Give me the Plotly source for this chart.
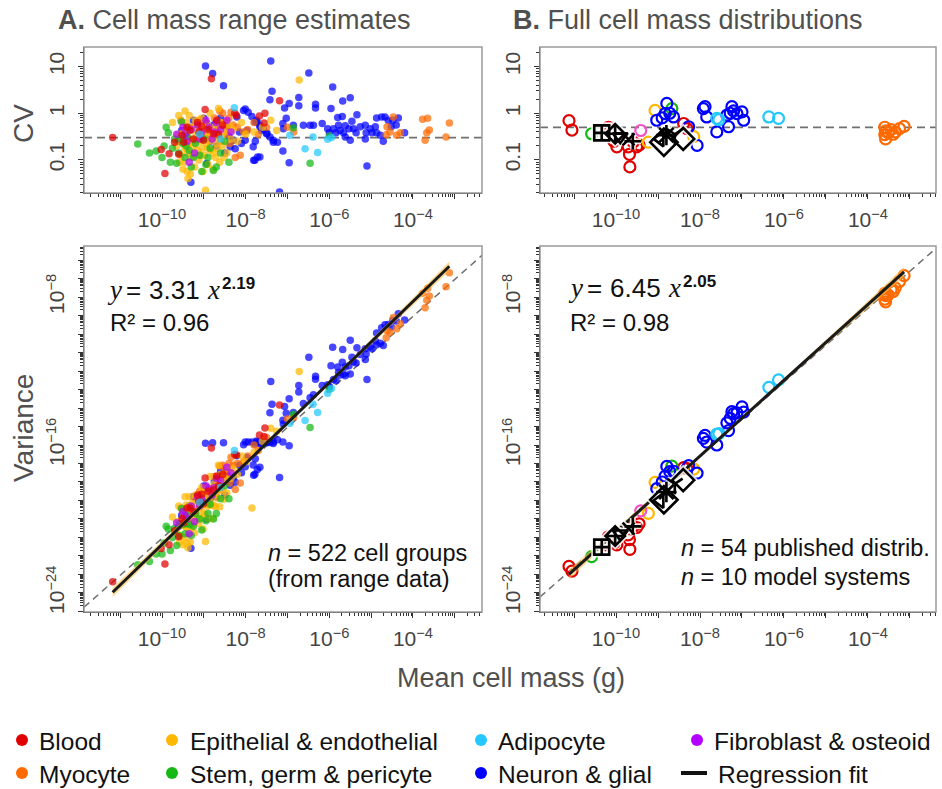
import numpy as np
import plotly.graph_objects as go

W, H = 942, 789

# ---------------- Panel A data: log10 mean cell mass (g), log10 CV ----------------
blood_lm = [-11.18, -10.02, -9.93, -9.83, -9.60, -9.33, -9.52, -9.12, -8.97, -8.82, -8.77, -9.01, -8.69,
            -8.26, -8.22, -7.54, -7.19, -7.67, -7.56, -9.40, -9.25, -8.90, -8.55, -9.70, -9.15,
            -9.48, -9.05, -8.65]
blood_lc = [-0.52, -0.78, -1.29, -0.87, -0.88, -0.37, -0.47, -0.40, 0.08, 0.74, -0.44, -0.58, -0.15,
            0.00, -0.05, 0.00, 0.27, -0.06, -0.21, -0.30, -0.55, -0.35, -0.25, -0.62, -0.20,
            -0.62, -0.28, -0.45]

epi_lm = [-9.75, -9.62, -9.55, -9.50, -9.46, -9.45, -9.40, -9.38, -9.35, -9.33,
          -9.30, -9.28, -9.25, -9.22, -9.20, -9.18, -9.15, -9.12, -9.10, -9.08,
          -9.05, -9.02, -9.00, -8.98, -8.96, -8.95, -8.92, -8.90, -8.88, -8.85,
          -8.83, -8.80, -8.78, -8.75, -8.72, -8.70, -8.66, -8.62, -8.60, -8.55,
          -8.50, -8.45, -8.40, -8.35, -8.30, -8.20, -8.10, -8.00, -7.85, -7.80,
          -7.60, -7.40, -7.26, -6.72, -9.60, -9.45, -9.05, -8.65, -9.40, -9.55,
          -9.65, -9.48, -9.42, -9.36, -9.27, -9.19, -9.13, -9.07, -9.03, -8.97,
          -8.91, -8.86, -8.81, -8.77, -8.73, -8.68, -8.58, -8.52, -9.58, -9.32]
epi_lc = [-0.20, -0.45, -0.60, -1.20, -1.05, -0.75, -0.85, -1.40, -0.05, -0.55,
          -0.95, -0.30, -0.70, -1.15, -0.15, -0.45, -0.80, -1.00, -0.60, -0.35,
          -0.75, -1.25, -0.50, -0.90, -1.65, -0.65, -0.25, -1.10, -0.40, 0.00,
          -0.80, -0.55, -1.20, -0.30, -0.95, -0.65, -0.45, -1.05, -0.20, -0.70,
          -0.40, -0.85, -0.25, -0.55, -0.35, -0.60, -0.20, -0.45, -1.85, -0.40,
          -0.30, -0.15, -0.37, 0.71, -0.05, 0.05, -0.10, 0.10, -1.25, -0.90,
          -0.70, -0.40, -0.20, -0.65, -0.85, -0.55, -0.30, -0.90, -0.40, -0.30,
          -0.75, -0.60, -0.35, -0.85, -0.50, -0.75, -0.55, -0.95, -1.05, -1.30]

myo_lm = [-9.55, -9.40, -9.20, -9.05, -8.95, -8.85, -8.75, -8.65, -8.55, -8.50, -8.45, -8.40,
          -8.35, -8.30, -8.25, -8.13, -8.05, -7.95, -7.80, -7.70, -7.50, -7.00, -6.85,
          -9.10, -8.90, -8.70, -8.60, -8.48, -8.38, -8.20, -8.62,
          -4.47, -4.62, -4.64, -4.39, -4.55, -4.30, -3.77, -3.65, -3.61, -3.67, -3.71, -3.21, -3.13]
myo_lc = [-0.15, -0.30, -0.25, -0.45, -0.20, -0.35, -0.10, -0.30, 0.00, -0.20, -0.45, -0.10,
          0.02, -0.25, -0.95, -0.90, -0.40, -0.35, -0.20, -0.45, -0.30, -0.30, -0.40,
          -0.15, -0.50, -0.40, -0.60, -0.30, -0.65, -0.30, 0.05,
          -0.08, -0.29, -0.46, -0.47, -0.40, -0.42, -0.13, -0.11, -0.36, -0.42, -0.58, -0.51, -0.21]

stem_lm = [-10.58, -10.30, -10.14, -10.00, -9.95, -9.85, -9.80, -9.75, -9.70, -9.65, -9.60,
           -9.53, -9.50, -9.45, -9.40, -9.35, -9.30, -9.20, -9.10, -9.00, -8.95, -8.85,
           -8.77, -8.70, -8.60, -8.50, -8.40, -6.86, -6.46, -6.00, -9.90,
           -9.58, -9.42, -9.25, -9.05, -8.90]
stem_lc = [-0.66, -0.85, -0.81, -0.95, -0.70, -0.42, -1.05, -0.75, -0.55, -1.07, -0.85,
           -0.19, -0.65, -0.95, -0.50, -0.80, -1.15, -0.65, -0.90, -0.55, -1.10, -0.75,
           -1.23, -1.15, -0.85, -0.60, -1.05, -0.31, -1.07, -0.49, -0.30,
           -0.55, -0.70, -0.95, -1.25, -0.95]

fib_lm = [-9.65, -9.50, -9.40, -9.30, -9.22, -9.15, -9.05, -8.95, -8.88, -8.80, -8.70, -8.60,
          -8.45, -8.35, -9.35, -9.45, -9.10, -8.75]
fib_lc = [-0.45, -0.30, -0.60, -0.35, -0.85, -0.25, -0.40, -0.15, -0.30, -0.55, -0.20, -0.35,
          -0.15, -0.40, -1.05, -0.45, -0.55, -0.40]

adi_lm = [-8.27, -6.94, -6.58, -6.28, -6.39, -6.04, -8.60, -9.10, -5.95]
adi_lc = [0.12, -0.47, -0.76, -0.84, -0.51, -0.56, -0.55, -0.45, -0.52]

neu_lm = [-9.53, -9.41, -9.31, -9.21, -9.09, -9.00, -8.93, -8.93, -8.75, -8.65,
          -8.45, -8.37, -8.29, -8.25, -8.21, -8.05, -8.01, -7.97, -7.82, -7.78,
          -7.66, -7.74, -7.62, -7.50, -8.96, -8.79, -8.53, -9.15, -8.85, -8.60,
          -9.60, -9.25, -8.50, -8.15, -9.35, -9.05, -8.70, -8.40, -8.10,
          -8.01, -7.94, -7.85, -7.73, -7.66, -7.58, -7.49, -7.34, -7.11,
          -7.40, -6.49, -7.37, -7.42, -6.73, -6.73, -6.96, -7.07, -7.03, -6.33,
          -6.33, -5.92, -5.96, -5.68, -5.50, -5.80, -5.69, -5.34, -5.46, -6.17,
          -6.62, -6.46, -6.38, -6.86, -7.11, -7.10, -7.78, -7.66, -7.42, -7.34,
          -7.24, -7.77, -7.81, -7.72, -6.96, -7.19, -5.10, -6.04,
          -6.00, -5.90, -5.84, -5.78, -5.74, -5.66, -5.62, -5.53, -5.42, -5.36,
          -5.26, -5.14, -5.12, -5.02, -4.98, -4.90, -4.87, -4.78, -4.71, -4.87,
          -4.75, -4.67, -4.59, -4.48, -4.52, -4.20, -5.50, -5.62, -5.14, -4.35, -4.40]
neu_lc = [-0.37, -0.51, -1.48, -0.58, -0.40, -0.11, -0.22, -1.08, -0.24, -0.47,
          -0.29, -0.72, -0.58, -0.76, -0.08, 0.06, -0.58, -0.37, -0.72, -1.01,
          -0.94, -0.15, -0.37, -0.44, 1.01, 0.85, 0.59, -0.25, -0.60, -0.10,
          -0.60, -0.15, -0.85, -0.40, -0.30, -0.55, -0.70, -0.50, -0.65,
          0.09, 0.02, -0.07, -0.19, -0.26, -0.34, -0.43, -0.58, -0.81,
          1.12, 0.86, 0.47, 0.29, 0.34, 0.16, 0.21, 0.11, -0.11, 0.19,
          0.11, 0.56, 0.10, 0.26, 0.33, -0.09, -0.07, -0.03, -0.17, -0.22,
          -0.26, -0.26, -0.26, -0.26, -0.22, -0.33, -0.19, -0.29, -0.51, -0.62,
          -0.62, -0.60, -1.01, -0.94, -1.06, -1.69, -1.13, -0.33,
          -0.42, -0.33, -0.42, -0.26, -0.37, -0.42, -0.27, -0.33, -0.33, -0.42,
          -0.29, -0.26, -0.42, -0.33, -0.42, -0.29, -0.42, -0.47, -0.60, -0.10,
          -0.08, -0.08, -0.15, -0.15, -0.29, -0.42, -0.58, -0.51, -0.55, -0.10, -0.25]

# ---------------- Panel B data: published distributions ----------------
b_blood_lm = [-11.12, -11.05, -10.18, -10.05, -9.98, -9.71, -9.68, -9.67, -9.51, -9.45, -9.59, -8.39, -8.31, -10.25]
b_blood_lc = [-0.16, -0.36, -0.30, -0.60, -0.72, -0.72, -0.88, -1.15, -0.72, -0.68, -0.62, -0.22, -0.33, -0.45]
b_stem_lm = [-10.58, -8.67]
b_stem_lc = [-0.44, 0.10]
b_epi_lm = [-9.07, -9.23, -8.15]
b_epi_lc = [0.06, -0.62, -0.50]
b_fib_lm = [-9.41]
b_fib_lc = [-0.37]
b_neu_lm = [-8.79, -8.83, -9.03, -8.90, -8.63, -8.27, -8.07, -7.92, -7.88, -7.84,
            -7.60, -7.32, -7.36, -7.24, -7.20, -7.12, -7.00, -6.96, -7.28, -8.72]
b_neu_lc = [0.21, -0.01, -0.15, -0.10, -0.08, -0.29, -0.69, 0.10, 0.14, -0.08,
            -0.40, -0.29, -0.04, 0.14, 0.05, -0.01, 0.03, -0.15, 0.00, 0.00]
b_adi_lm = [-7.60, -7.55, -6.36, -6.13]
b_adi_lc = [-0.11, -0.14, -0.08, -0.11]
b_myo_lm = [-3.60, -3.58, -3.60, -3.58, -3.52, -3.45, -3.40, -3.35, -3.25, -3.14]
b_myo_lc = [-0.30, -0.38, -0.46, -0.55, -0.42, -0.35, -0.45, -0.40, -0.33, -0.28]

# model systems (black symbols)
ms_lm = [-10.34, -10.02, -9.90, -9.70, -9.60, -8.95, -8.86, -8.80, -8.60, -8.40]
ms_lc = [-0.42, -0.44, -0.50, -0.56, -0.60, -0.55, -0.62, -0.47, -0.45, -0.55]
ms_symbols = ["square-cross-open", "diamond-cross-open", "triangle-down-open", "x-thin-open",
              "cross-thin-open", "triangle-left-open", "diamond-open", "asterisk-open",
              "y-down-open", "diamond-open"]
ms_sizes = [15, 15, 13, 12, 12, 13, 21, 17, 13, 17]

# reference lines and fits
cv_ref_A, cv_ref_B = 0.3, 0.5
fitA = dict(label_coef=3.31, label_exp=2.19, log_int=0.52, slope=2.19, r2=0.96)
fitB = dict(label_coef=6.45, label_exp=2.05, log_int=-0.20, slope=2.05, r2=0.98)
band_half = (0.08, 0.26)  # CI half-width (decades) at centre and at ends

# ---------------- styling ----------------
COL = {
    "Blood": "#E00000", "Myocyte": "#FF6A00", "Epithelial & endothelial": "#FFB800",
    "Stem, germ & pericyte": "#14B814", "Adipocyte": "#22C8FF", "Neuron & glial": "#0000FF",
    "Fibroblast & osteoid": "#B400FF",
}
def rgba(hexc, a):
    h = hexc.lstrip("#")
    return f"rgba({int(h[0:2],16)},{int(h[2:4],16)},{int(h[4:6],16)},{a})"

fx = lambda px: px / W
fy = lambda py: 1 - py / H
XL, XR = (84, 482), (540, 936)
YT, YB = (47, 193), (246, 612)

A_groups = [
    ("Neuron & glial", neu_lm, neu_lc),
    ("Myocyte", myo_lm, myo_lc),
    ("Epithelial & endothelial", epi_lm, epi_lc),
    ("Stem, germ & pericyte", stem_lm, stem_lc),
    ("Fibroblast & osteoid", fib_lm, fib_lc),
    ("Blood", blood_lm, blood_lc),
    ("Adipocyte", adi_lm, adi_lc),
]
B_groups = [
    ("Blood", b_blood_lm, b_blood_lc),
    ("Stem, germ & pericyte", b_stem_lm, b_stem_lc),
    ("Epithelial & endothelial", b_epi_lm, b_epi_lc),
    ("Neuron & glial", b_neu_lm, b_neu_lc),
    ("Adipocyte", b_adi_lm, b_adi_lc),
    ("Myocyte", b_myo_lm, b_myo_lc),
]
B_fib_color = "#F050C8"

fig = go.Figure()

XRANGE_A = [-11.865, -2.35]
XRANGE_B = [-11.81, -2.38]
YRANGE_T = [-1.71, 1.42]
YRANGE_B = [-25.03, -5.24]

# dashed reference lines
for xa, ya, xr, cv in [("x", "y", XRANGE_A, cv_ref_A), ("x2", "y2", XRANGE_B, cv_ref_B)]:
    fig.add_trace(go.Scatter(x=[10**xr[0], 10**xr[1]], y=[cv, cv], mode="lines", xaxis=xa, yaxis=ya,
                             line=dict(color="#707070", width=1.8, dash="8px,5px"), showlegend=False, hoverinfo="skip"))
for xa, ya, xr, cv in [("x3", "y3", XRANGE_A, cv_ref_A), ("x4", "y4", XRANGE_B, cv_ref_B)]:
    xs = np.array([10**xr[0], 10**xr[1]])
    fig.add_trace(go.Scatter(x=xs, y=(cv * xs)**2, mode="lines", xaxis=xa, yaxis=ya,
                             line=dict(color="#707070", width=1.5, dash="7px,5px"), showlegend=False, hoverinfo="skip"))

# panel A points
for name, lm, lc in A_groups:
    m = 10**np.array(lm); cv = 10**np.array(lc)
    mk = dict(size=7.5, color=rgba(COL[name], 0.72), line=dict(width=0))
    fig.add_trace(go.Scatter(x=m, y=cv, mode="markers", marker=mk, xaxis="x", yaxis="y", showlegend=False))
    fig.add_trace(go.Scatter(x=m, y=(cv * m)**2, mode="markers", marker=mk, xaxis="x3", yaxis="y3", showlegend=False))

# panel B points
def add_open(lm, lc, color):
    m = 10**np.array(lm); cv = 10**np.array(lc)
    mk = dict(size=11, symbol="circle-open", color=color, line=dict(width=2.2, color=color))
    fig.add_trace(go.Scatter(x=m, y=cv, mode="markers", marker=mk, xaxis="x2", yaxis="y2", showlegend=False))
    fig.add_trace(go.Scatter(x=m, y=(cv * m)**2, mode="markers", marker=mk, xaxis="x4", yaxis="y4", showlegend=False))

for name, lm, lc in B_groups:
    add_open(lm, lc, COL[name])
add_open(b_fib_lm, b_fib_lc, B_fib_color)

# regression fits with confidence band
def add_fit(fit, lm_all, xa, ya):
    lo, hi = min(lm_all), max(lm_all)
    lx = np.linspace(lo, hi, 60)
    ly = fit["log_int"] + fit["slope"] * lx
    mid = 0.5 * (lo + hi); half = 0.5 * (hi - lo)
    hw = band_half[0] + (band_half[1] - band_half[0]) * ((lx - mid) / half)**2
    xs = 10**lx
    fig.add_trace(go.Scatter(x=np.concatenate([xs, xs[::-1]]),
                             y=np.concatenate([10**(ly + hw), (10**(ly - hw))[::-1]]),
                             fill="toself", fillcolor="rgba(250,185,60,0.55)", line=dict(width=0),
                             mode="lines", xaxis=xa, yaxis=ya, showlegend=False, hoverinfo="skip"))
    fig.add_trace(go.Scatter(x=xs, y=10**ly, mode="lines", line=dict(color="#1a1a1a", width=3),
                             xaxis=xa, yaxis=ya, showlegend=False, hoverinfo="skip"))

allA = sum([g[1] for g in A_groups], [])
allB = sum([g[1] for g in B_groups], []) + b_fib_lm
add_fit(fitA, allA, "x3", "y3")
add_fit(fitB, allB, "x4", "y4")

# model systems (drawn last, white halo under black symbols)
ms_m = 10**np.array(ms_lm); ms_cv = 10**np.array(ms_lc)
for xa, ya, yv in [("x2", "y2", ms_cv), ("x4", "y4", (ms_cv * ms_m)**2)]:
    for col, lw in [("rgba(255,255,255,0.85)", 6), ("#000000", 2.6)]:
        fig.add_trace(go.Scatter(x=ms_m, y=yv, mode="markers", xaxis=xa, yaxis=ya, showlegend=False,
                                 marker=dict(symbol=ms_symbols, size=ms_sizes, color=col, opacity=1,
                                             line=dict(width=lw, color=col))))

# ---------------- axes ----------------
def decade_ticks(lo, hi, labeled):
    vals, txt, minor = [], [], []
    for k in range(int(np.floor(lo)), int(np.ceil(hi)) + 1):
        if lo <= k <= hi:
            vals.append(10.0**k)
            txt.append(labeled.get(k, ""))
        for mm in range(2, 10):
            v = np.log10(mm) + k
            if lo <= v <= hi:
                minor.append(mm * 10.0**k)
    return vals, txt, minor

FONT = "Liberation Sans, Arial, Helvetica, sans-serif"
def sup(k):
    return f"10<sup>\u2212{abs(k)}</sup>"

x_lab = {k: sup(k) for k in (-10, -8, -6, -4)}
def axis_common():
    return dict(type="log", showline=True, linecolor="#333333", linewidth=1.4, mirror=False,
                ticks="outside", ticklen=5, tickwidth=1.2, tickcolor="#333333",
                showgrid=False, zeroline=False, tickfont=dict(family=FONT, size=21, color="#444444"),
                automargin=False)

def xaxis_cfg(dom, rng, anchor):
    v, t, mn = decade_ticks(rng[0], rng[1], x_lab)
    d = axis_common()
    d.update(domain=[fx(dom[0]), fx(dom[1])], range=rng, anchor=anchor, tickmode="array",
             tickvals=v, ticktext=t, ticklabelstandoff=3,
             minor=dict(tickmode="array", tickvals=mn, ticks="outside", ticklen=2.5, tickwidth=1, tickcolor="#333333"))
    return d

def yaxis_cfg(dom, rng, anchor, labels):
    v, t, mn = decade_ticks(rng[0], rng[1], labels)
    d = axis_common()
    d.update(domain=[fy(dom[1]), fy(dom[0])], range=rng, anchor=anchor, tickmode="array",
             tickvals=v, ticktext=t, tickangle=-90, ticklabelstandoff=5,
             minor=dict(tickmode="array", tickvals=mn, ticks="outside", ticklen=2.5, tickwidth=1, tickcolor="#333333"))
    return d

cv_lab = {-1: "0.1", 0: "1", 1: "10"}
var_lab = {-24: sup(-24), -16: sup(-16), -8: sup(-8)}

fig.update_layout(
    width=W, height=H, margin=dict(l=0, r=0, t=0, b=0),
    paper_bgcolor="white", plot_bgcolor="white", showlegend=False,
    font=dict(family=FONT, color="#222222"),
    xaxis=xaxis_cfg(XL, XRANGE_A, "y"), yaxis=yaxis_cfg(YT, YRANGE_T, "x", cv_lab),
    xaxis2=xaxis_cfg(XR, XRANGE_B, "y2"), yaxis2=yaxis_cfg(YT, YRANGE_T, "x2", cv_lab),
    xaxis3=xaxis_cfg(XL, XRANGE_A, "y3"), yaxis3=yaxis_cfg(YB, YRANGE_B, "x3", var_lab),
    xaxis4=xaxis_cfg(XR, XRANGE_B, "y4"), yaxis4=yaxis_cfg(YB, YRANGE_B, "x4", var_lab),
)

# panel frames (grey box)
shapes = []
for xd, yd in [(XL, YT), (XR, YT), (XL, YB), (XR, YB)]:
    shapes.append(dict(type="rect", xref="paper", yref="paper", x0=fx(xd[0]), x1=fx(xd[1]),
                       y0=fy(yd[1]), y1=fy(yd[0]), line=dict(color="#9a9a9a", width=1.5), layer="above"))

# ---------------- text ----------------
ann = []
def text(px, py, s, size, color="#111111", xanchor="left", angle=0, yanchor="middle", family=FONT):
    ann.append(dict(x=fx(px), y=fy(py), xref="paper", yref="paper", text=s, showarrow=False,
                    xanchor=xanchor, yanchor=yanchor, textangle=angle, borderpad=0,
                    font=dict(family=family, size=size, color=color)))

text(57, 20, "<b>A.</b> Cell mass range estimates", 27, "#505050")
text(512, 20, "<b>B.</b> Full cell mass distributions", 27, "#505050")
text(24, 124, "CV", 28, "#505050", xanchor="center", angle=-90)
text(23, 428, "Variance", 28, "#505050", xanchor="center", angle=-90)
text(511, 678, "Mean cell mass (g)", 27, "#505050", xanchor="center")

SERIF = "Liberation Serif, Times New Roman, serif"
def eq_parts(px, py, fit):
    # italic serif y and x, sans-serif numbers, bold exponent
    text(px, py, "<i>y</i>", 27, family=SERIF)
    text(px + 19, py, "=", 26)
    text(px + 42, py, f"{fit['label_coef']:.2f}", 26)
    text(px + 100, py, "<i>x</i>", 27, family=SERIF)
    text(px + 115, py - 7, f"<b>{fit['label_exp']:.2f}</b>", 17)

eq_parts(106, 290, fitA)
text(109, 322, f"R² = {fitA['r2']:.2f}", 24)
eq_parts(567, 288, fitB)
text(569, 322, f"R² = {fitB['r2']:.2f}", 24)
text(267, 553, "<i>n</i> = 522 cell groups", 23.5)
text(267, 579, "(from range data)", 23.5)
text(680, 548, "<i>n</i> = 54 published distrib.", 23.5)
text(680, 577, "<i>n</i> = 10 model systems", 23.5)

# ---------------- legend ----------------
legend_items = [
    ("Blood", 22, 740, 38), ("Epithelial & endothelial", 172, 740, 189),
    ("Adipocyte", 481, 740, 497), ("Fibroblast & osteoid", 697, 740, 713),
    ("Myocyte", 22, 773, 38), ("Stem, germ & pericyte", 172, 773, 189),
    ("Neuron & glial", 481, 773, 497),
]
r = 6
for name, cx, cy, tx in legend_items:
    shapes.append(dict(type="circle", xref="paper", yref="paper", x0=fx(cx - r), x1=fx(cx + r),
                       y0=fy(cy + r), y1=fy(cy - r), fillcolor=COL[name], line=dict(width=0)))
    text(tx, cy + 1, name, 24.5, "#111111")
shapes.append(dict(type="line", xref="paper", yref="paper", x0=fx(681), x1=fx(707), y0=fy(773), y1=fy(773),
                   line=dict(color="#111111", width=4)))
text(717, 774, "Regression fit", 24.5, "#111111")

fig.update_layout(shapes=shapes, annotations=ann)
fig.write_html("out.html")
